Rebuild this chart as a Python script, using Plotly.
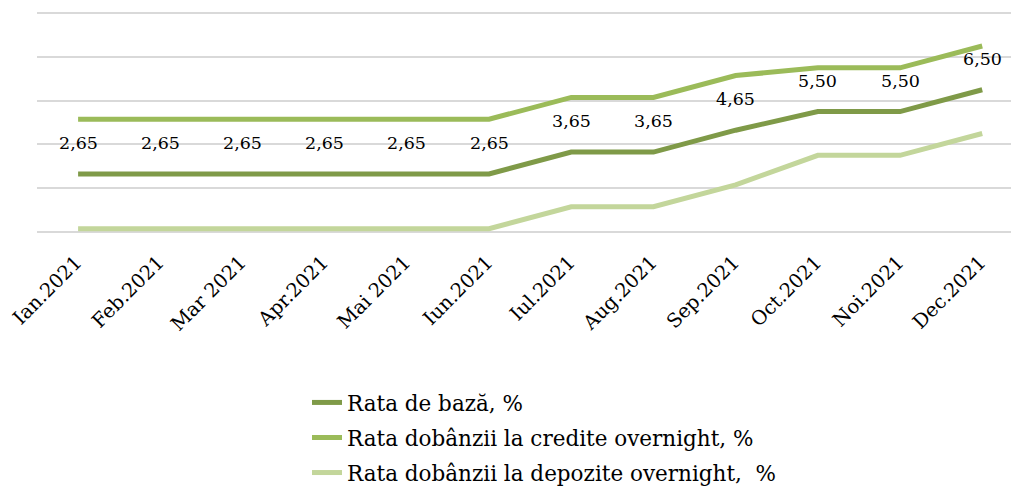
import plotly.graph_objects as go

months = ["Ian.2021", "Feb.2021", "Mar 2021", "Apr.2021", "Mai 2021", "Iun.2021",
          "Iul.2021", "Aug.2021", "Sep.2021", "Oct.2021", "Noi.2021", "Dec.2021"]
rata_baza = [2.65, 2.65, 2.65, 2.65, 2.65, 2.65, 3.65, 3.65, 4.65, 5.50, 5.50, 6.50]
rata_credite = [5.15, 5.15, 5.15, 5.15, 5.15, 5.15, 6.15, 6.15, 7.15, 7.50, 7.50, 8.50]
rata_depozite = [0.15, 0.15, 0.15, 0.15, 0.15, 0.15, 1.15, 1.15, 2.15, 3.50, 3.50, 4.50]

names = ["Rata de bază, %",
         "Rata dobânzii la credite overnight, %",
         "Rata dobânzii la depozite overnight,  %"]
colors = ["#7F9A48", "#9BBB59", "#C3D69B"]
series = [rata_baza, rata_credite, rata_depozite]

SERIF = "DejaVu Serif"

fig = go.Figure()
legend_ids = ["legend", "legend2", "legend3"]
for name, vals, col, lg in zip(names, series, colors, legend_ids):
    fig.add_trace(go.Scatter(
        x=months, y=vals, mode="lines", name=name,
        line=dict(color=col, width=5), legend=lg,
        hoverinfo="skip",
    ))

# data labels for base rate
for m, v in zip(months, rata_baza):
    fig.add_annotation(x=m, y=v, text=f"{v:.2f}".replace(".", ","),
                       showarrow=False, yshift=31,
                       font=dict(family=SERIF, size=17.5, color="#000000"))

W, H = 1011, 490
PX_PER_UNIT = 21.84
y_lo, y_hi = -0.05, 10.1
ml = 37
mt = 13.3 - 0.1 * PX_PER_UNIT
plot_h = (y_hi - y_lo) * PX_PER_UNIT
mb = H - mt - plot_h

def leg(ypx):
    return dict(x=(307 - ml) / (W - ml), xanchor="left",
                y=(mt + plot_h - ypx) / plot_h, yanchor="middle",
                font=dict(family=SERIF, size=21.5, color="#000000"),
                bgcolor="rgba(0,0,0,0)", itemwidth=30)

fig.update_layout(
    width=W, height=H,
    margin=dict(l=ml, r=0, t=mt, b=mb, autoexpand=False),
    paper_bgcolor="white", plot_bgcolor="white",
    showlegend=True,
    legend=leg(402), legend2=leg(437), legend3=leg(472),
    xaxis=dict(range=[-0.5, 11.35], showgrid=False, zeroline=False,
               showline=False, ticks="", tickangle=-45, automargin=False,
               ticklabelshift=-2, ticklabelstandoff=13,
               tickfont=dict(family=SERIF, size=19.5, color="#000000")),
    yaxis=dict(range=[y_lo, y_hi], tickvals=[0, 2, 4, 6, 8, 10], showgrid=True,
               gridcolor="#D9D9D9", gridwidth=1.5, zeroline=False,
               showticklabels=False, automargin=False,
               showline=False, ticks=""),
)

fig.write_html("out.html", config={"displayModeBar": False},
               post_script="document.body.style.margin='0';")
